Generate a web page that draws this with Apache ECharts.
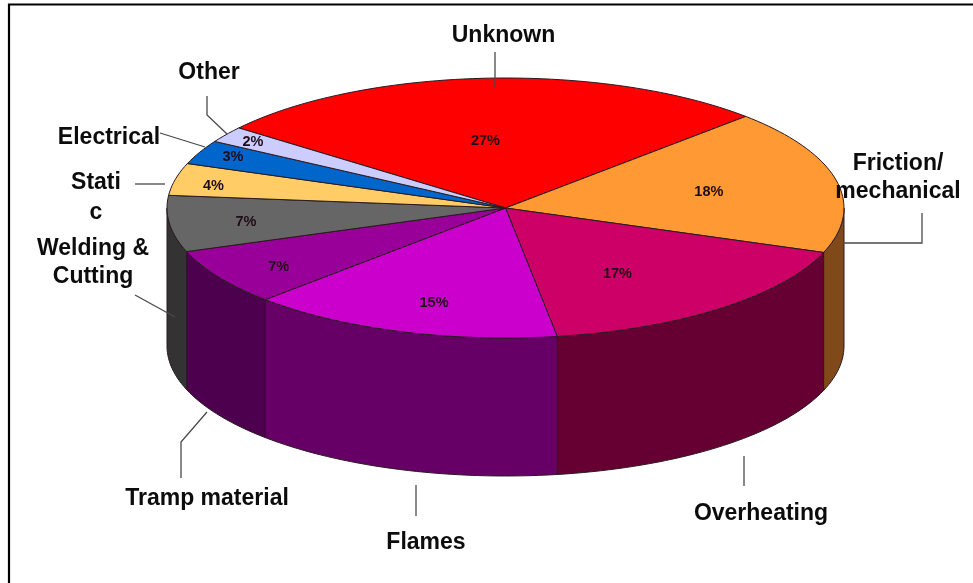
<!DOCTYPE html>
<html><head><meta charset="utf-8">
<style>html,body{margin:0;padding:0;background:#fff}#c{width:973px;height:583px}</style>
<script src="https://cdn.jsdelivr.net/npm/echarts@6/dist/echarts.min.js"></script>
</head><body><div id="c"></div>
<script>
// Data
const categories = ['Unknown','Friction/mechanical','Overheating','Flames','Tramp material','Welding & Cutting','Static','Electrical','Other'];
const values = [27,18,17,15,7,7,4,3,2];
const topColors = ['#ff0000','#ff9933','#cc0066','#cc00cc','#990099','#666666','#ffcc66','#0066cc','#ccccff'];
const sideColors = ['#800000','#80491a','#660033','#660066','#4d004d','#333333','#806633','#003366','#666680'];

// Layout of the pseudo-3D disc
const geom = {cx:505.5, cy:208, rx:338.5, ry:130, depth:138, startDeg:-52};
const pctNudge = [[-8,11],[5,1],[-17,6],[-8,21],[-55,17],[-58,4],[-94,-5],[-89,-18],[-85,-22]];
const calloutLabels = [
  {t:'Unknown',x:503.5,y:36},{t:'Other',x:209,y:73},{t:'Electrical',x:109,y:138},
  {t:'Stati\nc',x:96,y:198,lh:30},{t:'Welding &\nCutting',x:93,y:263,lh:28},
  {t:'Friction/\nmechanical',x:898,y:178,lh:28},{t:'Tramp material',x:207,y:499},
  {t:'Flames',x:426,y:543},{t:'Overheating',x:761,y:514}
];
const leaders = [
  [[495,52],[495,88]],[[207,96],[207,115],[227,134]],[[160,133],[205,147]],
  [[135,184],[165,184]],[[135,295],[175,317]],[[922,213],[922,243],[843,243]],
  [[181,478],[181,442],[207,412]],[[416,485],[416,516]],[[744,456],[744,486]]
];

const total = values.reduce((a,b)=>a+b,0);
const spans = []; let acc = geom.startDeg;
values.forEach(v=>{const s=acc; acc+=v/total*360; spans.push([s,acc]);});
const pt=(deg,dy)=>{const r=deg*Math.PI/180;return [geom.cx+geom.rx*Math.sin(r),geom.cy-geom.ry*Math.cos(r)+(dy||0)];};
const arc=(a,b,dy)=>{const n=Math.max(2,Math.ceil(Math.abs(b-a)/1.5));const o=[];for(let i=0;i<=n;i++)o.push(pt(a+(b-a)*i/n,dy));return o;};
const line={stroke:'#2a1a20',lineWidth:1,lineJoin:'round'};

function renderWall(p){
  const [a,b]=spans[p.dataIndex];
  const s=Math.max(a,90), e=Math.min(b,270);
  if(e<=s) return {type:'group',children:[]};
  const points=arc(s,e,0).concat(arc(e,s,geom.depth));
  return {type:'polygon',shape:{points},style:Object.assign({fill:sideColors[p.dataIndex]},line)};
}
function renderTop(p){
  const i=p.dataIndex,[a,b]=spans[i];
  const points=[[geom.cx,geom.cy]].concat(arc(a,b,0));
  const mid=pt((a+b)/2);
  const lx=geom.cx+(mid[0]-geom.cx)*0.6+pctNudge[i][0], ly=geom.cy+(mid[1]-geom.cy)*0.6+pctNudge[i][1];
  return {type:'group',children:[
    {type:'polygon',shape:{points},style:Object.assign({fill:topColors[i]},line)},
    {type:'text',x:lx,y:ly,z2:5,style:{text:values[i]+'%',fill:'#1f0c18',font:'bold 14.5px "Liberation Sans"',align:'center',verticalAlign:'middle'}}
  ]};
}
const graphics=[
  {type:'polyline',shape:{points:[[9,583],[9,4.5],[973,4.5]]},style:{stroke:'#000',lineWidth:2.2,fill:null}}
];
leaders.forEach(points=>graphics.push({type:'polyline',z:10,shape:{points},style:{stroke:'#4a4a4a',lineWidth:1.3,fill:null}}));
calloutLabels.forEach(l=>graphics.push({type:'text',z:11,x:l.x,y:l.y,style:{text:l.t,fill:'#0c0c0c',font:'bold 23px "Liberation Sans"',lineHeight:l.lh||26,align:'center',verticalAlign:'middle'}}));

const chart=echarts.init(document.getElementById('c'));
chart.setOption({
  animation:false,
  backgroundColor:'#fff',
  graphic:graphics,
  series:[
    {type:'custom',name:'side',coordinateSystem:'none',renderItem:renderWall,data:values,z:1,silent:true},
    {type:'custom',name:'top',coordinateSystem:'none',renderItem:renderTop,data:values,z:2,silent:true}
  ]
});
</script></body></html>
